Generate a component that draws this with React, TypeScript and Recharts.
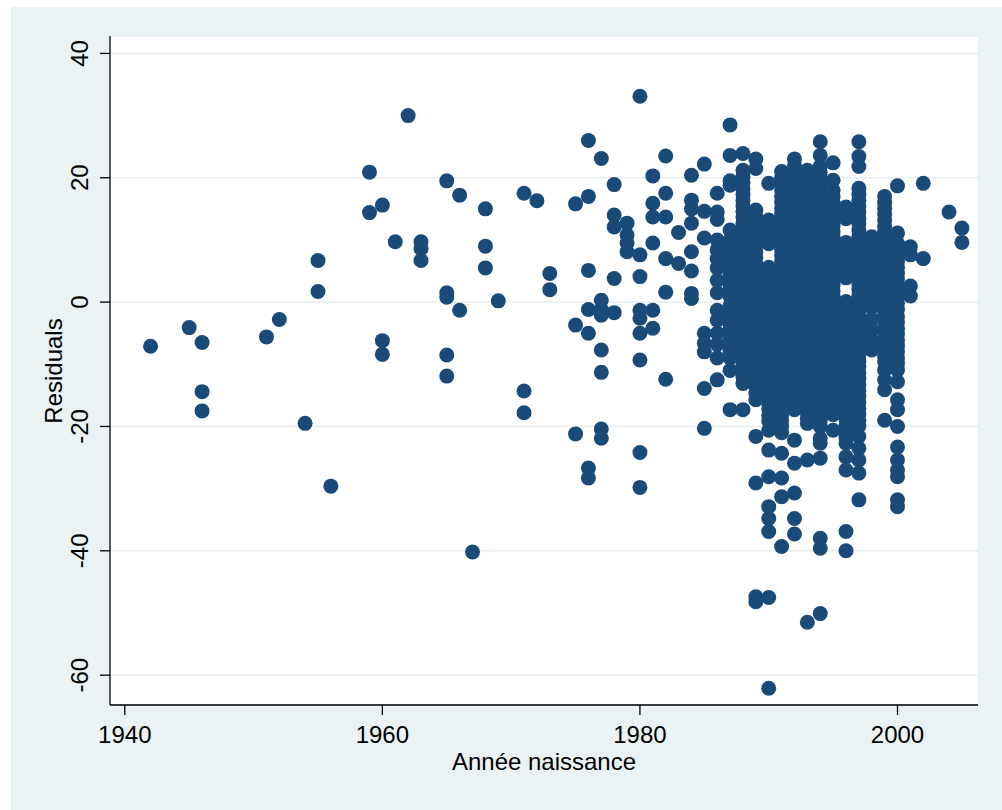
import React from 'react';
import {
  ScatterChart, Scatter, XAxis, YAxis, CartesianGrid, Label,
} from 'recharts';

// birth years present in the sample
const birthYears = [
  1942, 1945, 1946, 1951, 1952, 1954, 1955, 1956, 1959, 1960, 1961, 1962, 1963,
  1965, 1966, 1967, 1968, 1969, 1971, 1972, 1973, 1975, 1976, 1977, 1978, 1979,
  1980, 1981, 1982, 1983, 1984, 1985, 1986, 1987, 1988, 1989, 1990, 1991, 1992,
  1993, 1994, 1995, 1996, 1997, 1998, 1999, 2000, 2001, 2002, 2004, 2005,
];

// residuals, one list per birth year (same order as birthYears)
// the 1986-2000 columns are a dense overlap, values there are estimates
const residualsByYear: number[][] = [
  [-7.1],
  [-4.1],
  [-6.5, -14.4, -17.5],
  [-5.6],
  [-2.8],
  [-19.5],
  [6.7, 1.7],
  [-29.6],
  [20.9, 14.4],
  [15.6, -6.2, -8.4],
  [9.7],
  [30.0],
  [9.7, 8.6, 6.7],
  [19.5, 1.5, 0.8, -8.5, -11.9],
  [17.2, -1.3],
  [-40.2],
  [15.0, 9.0, 5.5],
  [0.2],
  [17.5, -14.3, -17.8],
  [16.3],
  [4.6, 2.0],
  [15.8, -3.7, -21.2],
  [26.0, 17.0, 5.1, -1.2, -5.0, -26.7, -28.3],
  [23.1, 0.3, -1.2, -2.1, -7.7, -11.3, -20.4, -21.9],
  [18.9, 14.0, 12.1, 3.8, -1.7],
  [12.7, 10.8, 9.5, 8.1],
  [33.1, 7.6, 4.1, -1.3, -2.6, -5.0, -9.3, -24.2, -29.8],
  [20.3, 15.9, 13.7, 9.5, -1.3, -4.2],
  [23.5, 17.5, 13.7, 7.0, 1.6, -12.4],
  [11.2, 6.2],
  [20.4, 16.4, 15.0, 12.7, 8.1, 5.0, 1.4, 0.6],
  [22.2, 14.6, 10.3, -5.0, -6.6, -8.0, -13.9, -20.3],
  [17.5, 14.5, 13.3, 10.0, 8.4, 7.0, 5.5, 3.5, 1.5, -1.3, -2.9, -5.0, -6.8, -9.0, -12.5],
  [28.5, 23.6, 19.5, 18.8, 11.6, 10.0, 9.1, 8.2, 7.3, 6.4, 5.5, 4.6, 3.7, 2.8, 1.8, 0.9, -0.5, -1.8,
    -2.6, -3.4, -4.3, -5.2, -6.1, -7.0, -8.0, -9.0, -11.0, -17.3],
  [23.9, 21.2, 20.2, 19.2, 18.2, 17.3, 16.4, 15.5, 14.6, 13.7, 12.7, 11.8, 10.8, 9.9, 8.9, 8.0, 7.0,
    6.1, 5.1, 4.2, 3.2, 2.3, 1.3, 0.4, -0.6, -1.5, -2.5, -3.4, -4.4, -5.3, -6.3, -7.2, -8.2, -9.2,
    -10.1, -11.1, -12.0, -13.1, -17.3],
  [23.0, 21.5, 14.8, 13.8, 12.9, 11.9, 11.0, 10.0, 9.1, 8.1, 7.2, 6.2, 5.3, 4.3, 3.4, 2.4, 1.5, 0.5,
    -0.4, -1.4, -2.3, -3.3, -4.2, -5.2, -6.1, -7.1, -8.0, -9.0, -9.9, -10.9, -11.8, -12.8, -13.7,
    -14.7, -15.7, -21.6, -29.1, -47.4, -48.2],
  [19.1, 13.2, 12.2, 11.3, 10.3, 9.4, 5.6, 4.6, 3.7, 2.7, 1.8, 0.8, -0.1, -1.1, -2.0, -3.0, -3.9,
    -4.9, -5.8, -6.8, -7.7, -8.7, -9.6, -10.6, -11.5, -12.5, -13.4, -14.4, -15.3, -16.3, -17.2,
    -18.2, -19.1, -20.6, -23.8, -28.1, -32.9, -34.8, -36.9, -47.5, -62.1],
  [21.0, 20.0, 19.1, 18.0, 17.0, 16.1, 15.1, 14.2, 13.2, 12.3, 11.3, 10.4, 9.4, 8.5, 7.5, 6.6, 5.6,
    4.7, 3.7, 2.8, 1.8, 0.9, -0.1, -1.0, -2.0, -2.9, -3.9, -4.8, -5.8, -6.7, -7.7, -8.6, -9.6,
    -10.5, -11.5, -12.4, -13.4, -14.3, -15.3, -16.2, -17.2, -18.2, -19.1, -20.0, -21.0, -24.3,
    -28.3, -31.3, -39.3],
  [23.0, 22.0, 21.0, 20.0, 19.1, 18.1, 17.2, 16.2, 15.3, 14.3, 13.4, 12.4, 11.5, 10.5, 9.6, 8.6, 7.7,
    6.7, 5.8, 4.8, 3.9, 2.9, 2.0, 1.0, 0.1, -0.9, -1.8, -2.8, -3.7, -4.7, -5.6, -6.6, -7.5, -8.5,
    -9.4, -10.4, -11.3, -12.3, -13.2, -14.2, -15.1, -16.2, -17.3, -22.2, -25.9, -30.7, -34.8, -37.3],
  [21.2, 20.2, 19.3, 18.3, 17.4, 16.4, 15.5, 14.5, 13.6, 12.6, 11.7, 10.7, 9.8, 8.8, 7.9, 6.9, 6.0,
    5.0, 4.1, 3.1, 2.2, 1.2, 0.3, -0.7, -1.6, -2.6, -3.5, -4.5, -5.4, -6.4, -7.3, -8.3, -9.2,
    -10.2, -11.1, -12.1, -13.0, -14.0, -14.9, -15.9, -16.8, -17.8, -18.7, -19.5, -25.4, -51.5],
  [25.8, 23.6, 21.8, 20.8, 19.9, 18.9, 18.0, 17.0, 16.1, 15.1, 14.2, 13.2, 12.3, 11.3, 10.4, 9.4,
    8.5, 7.5, 6.6, 5.6, 4.7, 3.7, 2.8, 1.8, 0.9, -0.1, -1.0, -2.0, -2.9, -3.9, -4.8, -5.8, -6.7,
    -7.7, -8.6, -9.6, -10.5, -11.5, -12.4, -13.4, -14.3, -15.3, -16.2, -17.2, -18.1, -19.1, -20.0,
    -21.9, -22.7, -25.1, -38.0, -39.6, -50.1],
  [22.4, 19.6, 18.0, 17.0, 16.1, 15.1, 14.2, 13.2, 12.3, 11.3, 10.4, 9.4, 8.5, 7.5, 6.6, 5.6, 4.7,
    3.7, 2.8, 1.8, 0.9, -0.1, -1.0, -2.0, -2.9, -3.9, -4.8, -5.8, -6.7, -7.7, -8.6, -9.6, -10.5,
    -11.5, -12.4, -13.4, -14.3, -15.3, -16.2, -17.2, -18.1, -20.6],
  [15.3, 14.3, 13.4, 9.6, 8.6, 7.7, 6.7, 5.8, 4.8, 3.9, 0.1, -0.9, -1.8, -2.8, -3.7, -4.7, -5.6,
    -6.6, -7.5, -8.5, -9.4, -10.4, -11.3, -12.3, -13.2, -14.2, -15.1, -16.1, -17.0, -18.0, -18.9,
    -19.9, -20.8, -21.8, -22.7, -24.9, -27.0, -36.9, -40.0],
  [25.8, 23.4, 21.8, 18.3, 17.3, 16.4, 15.4, 14.5, 13.5, 12.6, 11.5, 10.5, 9.6, 8.6, 7.7, 6.7, 5.8,
    4.8, 3.9, 2.9, 2.0, 1.0, 0.0, -0.9, -1.9, -2.8, -3.8, -4.7, -5.7, -6.6, -7.6, -8.5, -9.5,
    -10.4, -11.4, -12.3, -13.3, -14.2, -15.2, -16.1, -17.1, -18.0, -19.0, -19.9, -21.6, -23.5,
    -25.4, -27.5, -31.8],
  [10.5, 9.6, 8.6, 7.7, 6.7, 5.8, 4.8, 3.9, 2.9, 2.0, 1.0, 0.0, -0.9, -2.8, -4.5, -6.2, -7.7],
  [17.0, 16.0, 15.1, 14.1, 13.2, 12.2, 11.3, 10.3, 9.4, 8.4, 7.5, 6.5, 5.6, 4.6, 3.7, 2.7, 1.8, 0.8,
    -0.1, -1.1, -2.0, -3.0, -3.9, -4.9, -5.8, -6.8, -7.7, -8.7, -9.6, -10.9, -12.5, -14.1, -19.0],
  [18.7, 11.1, 9.4, 8.4, 7.5, 6.5, 5.6, 4.6, 3.7, 2.7, 1.8, 0.8, -0.2, -1.2, -2.3, -3.2, -4.2, -5.1,
    -6.1, -7.0, -8.0, -9.0, -9.9, -10.9, -12.8, -15.7, -17.3, -20.0, -23.3, -25.4, -27.0, -28.1,
    -31.8, -32.9],
  [8.9, 7.6, 2.6, 1.0],
  [19.1, 7.0],
  [14.5],
  [11.9, 9.6],
];

const xTicks = [1940, 1960, 1980, 2000];
const yTicks = [-60, -40, -20, 0, 20, 40];

const points = birthYears.flatMap((yr, i) =>
  residualsByYear[i].map((r) => ({ year: yr, resid: r })),
);

const FONT = '"Liberation Sans", Arial, Helvetica, sans-serif';
const NAVY = '#1a4a78';

const XTick = ({ x, y, payload }: any) => (
  <text x={x} y={y + 26} textAnchor="middle" fontSize={24} fontFamily={FONT} fill="#000">
    {payload.value}
  </text>
);

const YTick = ({ x, y, payload }: any) => {
  const bx = x - 10;
  return (
    <text
      x={bx}
      y={y}
      transform={`rotate(-90 ${bx} ${y})`}
      textAnchor="middle"
      fontSize={24}
      fontFamily={FONT}
      fill="#000"
    >
      {payload.value}
    </text>
  );
};

const Dot = (props: any) => <circle cx={props.cx} cy={props.cy} r={7.5} fill={NAVY} />;

export default function App() {
  return (
    <div
      style={{
        position: 'fixed', left: 11, top: 7, width: 991, height: 803,
        background: '#eaf2f3',
      }}
    >
      <ScatterChart width={991} height={803} margin={{ top: 29, right: 24, bottom: 45, left: 19 }}>
        <CartesianGrid vertical={false} fill="#ffffff" stroke="#e6eef0" strokeWidth={1.5} />
        <XAxis
          type="number"
          dataKey="year"
          domain={[1938.85, 2006.25]}
          ticks={xTicks}
          allowDataOverflow
          height={60}
          tickSize={10}
          tick={<XTick />}
          axisLine={{ stroke: '#000', strokeWidth: 1.3 }}
          tickLine={{ stroke: '#000', strokeWidth: 1.3 }}
        >
          <Label
            content={() => (
              <text x={544 - 11} y={763} textAnchor="middle" fontSize={24} fontFamily={FONT} fill="#000">
                Année naissance
              </text>
            )}
          />
        </XAxis>
        <YAxis
          type="number"
          dataKey="resid"
          domain={[-64.8, 42.8]}
          ticks={yTicks}
          allowDataOverflow
          width={80}
          tickSize={10}
          tick={<YTick />}
          axisLine={{ stroke: '#000', strokeWidth: 1.3 }}
          tickLine={{ stroke: '#000', strokeWidth: 1.3 }}
        >
          <Label
            content={() => (
              <text
                x={51}
                y={364}
                transform="rotate(-90 51 364)"
                textAnchor="middle"
                fontSize={24}
                fontFamily={FONT}
                fill="#000"
              >
                Residuals
              </text>
            )}
          />
        </YAxis>
        <Scatter data={points} shape={<Dot />} isAnimationActive={false} />
      </ScatterChart>
    </div>
  );
}
